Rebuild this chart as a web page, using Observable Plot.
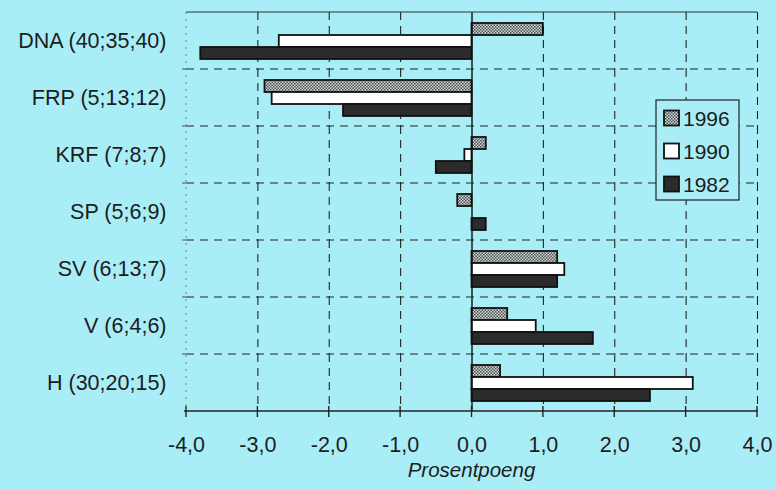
<!DOCTYPE html>
<html>
<head>
<meta charset="utf-8">
<script src="https://cdn.jsdelivr.net/npm/d3@7"></script>
<script src="https://cdn.jsdelivr.net/npm/@observablehq/plot@0.6"></script>
<style>
  html, body { margin: 0; padding: 0; background: #a9eef7; }
  #chart { width: 776px; height: 490px; }
  svg { display: block; }
</style>
</head>
<body>
<div id="chart"></div>
<script>
// ---- data ----
const parties = ["DNA", "FRP", "KRF", "SP", "SV", "V", "H"];
const partyLabels = ["DNA (40;35;40)", "FRP (5;13;12)", "KRF (7;8;7)", "SP (5;6;9)", "SV (6;13;7)", "V (6;4;6)", "H (30;20;15)"];
const years = ["1996", "1990", "1982"];
const values1996 = [1.0, -2.9, 0.2, -0.2, 1.2, 0.5, 0.4];
const values1990 = [-2.7, -2.8, -0.1, 0.0, 1.3, 0.9, 3.1];
const values1982 = [-3.8, -1.8, -0.5, 0.2, 1.2, 1.7, 2.5];
const xTicks = [-4, -3, -2, -1, 0, 1, 2, 3, 4];
const xTitle = "Prosentpoeng";

const series = {"1996": values1996, "1990": values1990, "1982": values1982};
const rows = [];
parties.forEach((p, i) => years.forEach(y => rows.push({party: p, year: y, value: series[y][i]})));

const fills = {"1996": "url(#pat1996)", "1990": "#ffffff", "1982": "#2b2b2b"};
const fmt = d => d.toFixed(1).replace(".", ",");
const font = "'Liberation Sans', Arial, Helvetica, sans-serif";

const chart = Plot.plot({
  width: 776,
  height: 490,
  marginLeft: 186,
  marginRight: 19,
  marginTop: 10,
  marginBottom: 77,
  style: {background: "transparent", fontFamily: font, fontSize: "21.5px", color: "#1c1c1c", overflow: "visible"},
  x: {domain: [-4, 4], ticks: xTicks, tickFormat: fmt, tickSize: 0, tickPadding: 25, label: null},
  fy: {domain: parties, padding: 0, label: null, axis: "left", tickSize: 0, tickPadding: 20,
       tickFormat: p => partyLabels[parties.indexOf(p)]},
  y: {domain: years, axis: null, paddingInner: 0, paddingOuter: 0.72},
  marks: [
    Plot.gridX(xTicks.filter(t => t !== 0 && t !== -4), {stroke: "#222", strokeOpacity: 1, strokeWidth: 1.1, strokeDasharray: "8,6"}),
    ...years.map(yr => Plot.barX(rows, {
      filter: d => d.year === yr,
      fy: "party", y: "year", x: "value",
      fill: fills[yr], stroke: "#111", strokeWidth: 1.8
    })),
    Plot.ruleX([0], {stroke: "#111", strokeWidth: 1.4})
  ]
});
document.getElementById("chart").appendChild(chart);

// ---- extras drawn with the plot's own scales ----
const svg = d3.select(chart);
const sx = chart.scale("x");
const sfy = chart.scale("fy");
const X = v => sx.apply(v);
const x0 = X(-4), x1 = X(4);
let bw, tops;
if (sfy && sfy.apply) {
  bw = sfy.bandwidth;
  tops = parties.map(p => sfy.apply(p));
} else {
  bw = (490 - 77 - 10) / parties.length;
  tops = parties.map((p, i) => 10 + i * bw);
}
const yTop = tops[0], yBot = tops[tops.length - 1] + bw;

const defs = svg.insert("defs", ":first-child");
const pat = defs.append("pattern").attr("id", "pat1996").attr("patternUnits", "userSpaceOnUse")
  .attr("width", 3).attr("height", 3);
pat.append("rect").attr("width", 3).attr("height", 3).attr("fill", "#cbd9d9");
pat.append("rect").attr("x", 0).attr("y", 0).attr("width", 1.5).attr("height", 1.5).attr("fill", "#505050");
pat.append("rect").attr("x", 1.5).attr("y", 1.5).attr("width", 1.5).attr("height", 1.5).attr("fill", "#505050");

const g = svg.append("g");
// horizontal dashed band separators
tops.slice(1).forEach(t => {
  g.append("line").attr("x1", x0).attr("x2", x1).attr("y1", t).attr("y2", t)
    .attr("stroke", "#222").attr("stroke-width", 1.1).attr("stroke-dasharray", "8,6");
  g.append("line").attr("x1", x0 - 4).attr("x2", x0).attr("y1", t).attr("y2", t)
    .attr("stroke", "#555").attr("stroke-width", 1);
});
// left faint edge
g.append("line").attr("x1", x0).attr("x2", x0).attr("y1", yTop).attr("y2", yBot)
  .attr("stroke", "#666").attr("stroke-width", 0.8).attr("stroke-dasharray", "2,5");
// top solid line
g.append("line").attr("x1", x0).attr("x2", x1).attr("y1", yTop).attr("y2", yTop)
  .attr("stroke", "#333").attr("stroke-width", 1.2);
// bottom axis
g.append("line").attr("x1", x0 - 2).attr("x2", x1).attr("y1", yBot).attr("y2", yBot)
  .attr("stroke", "#222").attr("stroke-width", 1.4);
xTicks.forEach(t => {
  g.append("line").attr("x1", X(t)).attr("x2", X(t)).attr("y1", yBot - 5).attr("y2", yBot + 6)
    .attr("stroke", "#222").attr("stroke-width", 1.4);
});
// axis title
g.append("text").attr("x", X(0)).attr("y", yBot + 66).attr("text-anchor", "middle")
  .attr("font-family", font).attr("font-size", 20.5).attr("font-style", "italic").attr("fill", "#1c1c1c")
  .text(xTitle);

// legend
const lg = svg.append("g").attr("transform", "translate(656,100)");
lg.append("rect").attr("width", 83).attr("height", 100).attr("fill", "#a9eef7").attr("stroke", "#222").attr("stroke-width", 1.2);
years.forEach((yr, i) => {
  const cy = 18 + i * 33;
  lg.append("rect").attr("x", 8).attr("y", cy - 7.5).attr("width", 15).attr("height", 15)
    .attr("fill", fills[yr]).attr("stroke", "#111").attr("stroke-width", 1.8);
  lg.append("text").attr("x", 27).attr("y", cy).attr("dy", "0.36em").attr("text-anchor", "start")
    .attr("font-family", font).attr("font-size", 21).attr("fill", "#1c1c1c").text(yr);
});
</script>
</body>
</html>
